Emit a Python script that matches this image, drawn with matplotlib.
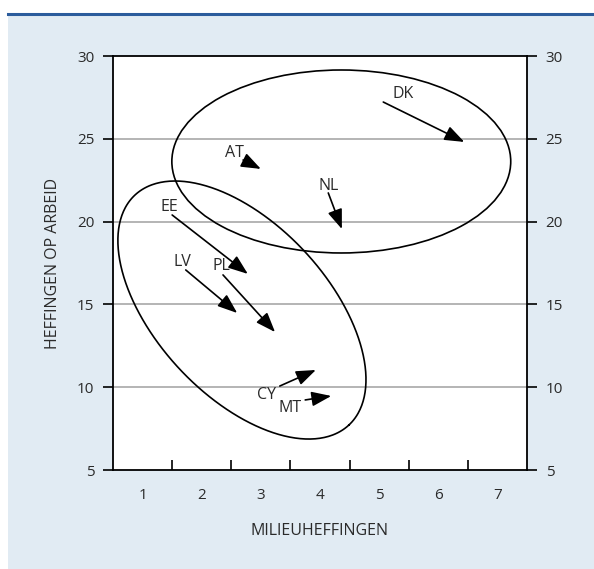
import numpy as np
import matplotlib
matplotlib.use('Agg')
import matplotlib.pyplot as plt
from matplotlib.patches import Rectangle, Ellipse
from matplotlib.lines import Line2D

plt.rcParams['font.family'] = ['Open Sans', 'DejaVu Sans']

# country arrows: label position, arrow start, arrow tip (milieuheffingen, heffingen op arbeid)
countries = ['DK', 'AT', 'NL', 'EE', 'LV', 'PL', 'CY', 'MT']
label_x = [5.40, 2.56, 4.14, 1.45, 1.68, 2.33, 3.10, 3.49]
label_y = [27.71, 24.14, 22.15, 20.88, 17.56, 17.32, 9.53, 8.74]
start_x = [5.07, 2.70, 4.14, 1.50, 1.73, 2.36, 3.32, 3.75]
start_y = [27.22, 23.72, 21.73, 20.40, 17.08, 16.78, 10.07, 9.23]
end_x = [6.44, 3.00, 4.37, 2.78, 2.60, 3.24, 3.93, 4.19]
end_y = [24.81, 23.18, 19.55, 16.84, 14.48, 13.33, 11.04, 9.47]

# cluster ellipses
upper_center = (4.36, 23.63)
upper_size = (5.73, 11.05)
lower_center = (2.68, 14.66)
lower_axis1 = (1.81, -6.94)
lower_axis2 = (-1.06, -3.54)

x_labels = ['1', '2', '3', '4', '5', '6', '7']
y_ticks = [5, 10, 15, 20, 25, 30]

txt = '#2a2a2a'
fig = plt.figure(figsize=(5.94, 5.69), dpi=100)
fig.patch.set_facecolor('white')
bg = Rectangle((8/594, 0), 1 - 8/594, (569-14)/569, transform=fig.transFigure,
               facecolor='#e1ebf3', edgecolor='none', zorder=-10)
fig.add_artist(bg)
fig.add_artist(Line2D([8/594, 1], [(569-14)/569]*2, transform=fig.transFigure,
                      color='#2b5c9c', lw=2.2, zorder=-9))

ax = fig.add_axes([113/594, 1 - 470/569, 414/594, 414/569])
ax.set_facecolor('white')
ax.set_xlim(0.5, 7.5)
ax.set_ylim(5, 30)

for y in y_ticks[1:-1]:
    ax.axhline(y, color='#a8a8a8', lw=1.2, zorder=1)

ax.set_xticks(range(1, 8))
ax.set_xticklabels(x_labels)
ax.set_xticks(np.arange(1.5, 7.5, 1), minor=True)
ax.tick_params(axis='x', which='major', length=0, pad=13, labelsize=11, labelcolor=txt)
ax.tick_params(axis='x', which='minor', direction='in', length=7, width=1.2, color='black')
ax.set_yticks(y_ticks)
ax.tick_params(axis='y', which='major', direction='out', length=7.5, width=1.2,
               left=True, right=True, labelleft=True, labelright=True,
               pad=6, labelsize=11, labelcolor=txt)
for s in ax.spines.values():
    s.set_linewidth(1.3)

ax.set_xlabel('MILIEUHEFFINGEN', fontsize=11.5, color=txt)
ax.set_ylabel('HEFFINGEN OP ARBEID', fontsize=11.5, color=txt)
ax.xaxis.set_label_coords(0.5, -0.128)
ax.yaxis.set_label_coords(-0.125, 0.5)

ax.add_patch(Ellipse(upper_center, upper_size[0], upper_size[1], fill=False,
                     edgecolor='black', lw=1.2, zorder=3))
t = np.linspace(0, 2*np.pi, 400)
ex = lower_center[0] + np.cos(t)*lower_axis1[0] + np.sin(t)*lower_axis2[0]
ey = lower_center[1] + np.cos(t)*lower_axis1[1] + np.sin(t)*lower_axis2[1]
ax.plot(ex, ey, color='black', lw=1.2, zorder=3)

for i, c in enumerate(countries):
    ax.text(label_x[i], label_y[i], c, ha='center', va='center', fontsize=11.5, color=txt, zorder=4)
    ax.annotate('', xy=(end_x[i], end_y[i]), xytext=(start_x[i], start_y[i]),
                arrowprops=dict(arrowstyle='-|>,head_length=1.2,head_width=0.45',
                                mutation_scale=10, color='black', lw=1.2,
                                shrinkA=0, shrinkB=0), zorder=4)

fig.savefig('out.png', dpi=100)
